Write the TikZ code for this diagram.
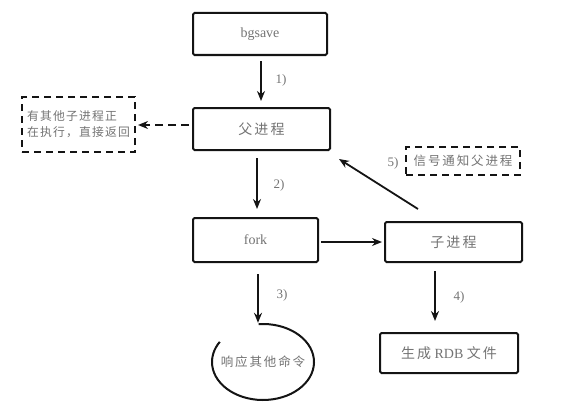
\documentclass[tikz,border=0pt]{standalone}
\usepackage{fontspec}
\setmainfont{Liberation Serif}
\newfontfamily\cjk{Noto Sans CJK SC}[LetterSpace=15]
\newfontfamily\cjktight{Noto Sans CJK SC}[LetterSpace=10]
\usetikzlibrary{arrows.meta,shapes.geometric}
\definecolor{txtgray}{RGB}{115,115,115}
\definecolor{ink}{RGB}{20,20,20}
\tikzset{
  sbox/.style={draw=ink, line width=2pt, rounded corners=1.5pt, inner sep=0pt, text=txtgray, font=\fontsize{14}{16}\selectfont},
  dbox/.style={sbox, dash pattern=on 7pt off 5pt, rounded corners=0pt},
  arr/.style={draw=ink, line width=1.8pt, -{Stealth[length=10pt,width=8pt]}},
  darr/.style={arr, dash pattern=on 8pt off 5pt},
  lbl/.style={text=txtgray, font=\fontsize{13}{15}\selectfont},
}
\begin{document}
\begin{tikzpicture}[x=1pt,y=1pt]
\useasboundingbox (0,0) rectangle (588,-404);
% boxes
\node[sbox, minimum width=134pt, minimum height=42pt] (bg) at (260,-34) {bgsave};
\node[sbox, minimum width=137pt, minimum height=42pt] (fu) at (261.5,-129) {\cjk 父进程};
\node[sbox, minimum width=125pt, minimum height=44pt] (fork) at (255.5,-240) {fork};
\node[sbox, minimum width=137pt, minimum height=40pt] (child) at (453.5,-242) {\cjk 子进程};
\node[sbox, minimum width=138pt, minimum height=40pt] (rdb) at (449,-353) {{\cjk 生成} RDB {\cjk 文件}};
\node[dbox, minimum width=113pt, minimum height=55pt, align=left, font=\fontsize{11.8}{16}\selectfont] (busy) at (78.5,-124.5) {\cjktight 有其他子进程正\\\cjktight 在执行，直接返回};
\node[dbox, minimum width=114pt, minimum height=28pt, font=\fontsize{12.5}{15}\selectfont] (sig) at (463,-161) {\cjk 信号通知父进程};
% ellipse (hand-drawn, open at upper left)
\node[ellipse, minimum width=102pt, minimum height=76pt, inner sep=0pt, text=txtgray, font=\fontsize{12.5}{15}\selectfont] (resp) at (263,-362) {\cjk 响应其他命令};
\draw[draw=ink, line width=2pt] ([shift={(95:51pt and 38pt)}]resp.center) arc[start angle=95, end angle=-212, x radius=51pt, y radius=38pt];
% connectors
\draw[arr] ([xshift=1pt]bg.south) ++(0,-5) coordinate (a1s) -- ([yshift=6pt]a1s |- fu.north);
\draw[arr] ([xshift=1.5pt]fork.north |- fu.south) ++(0,-7) coordinate (a2s) -- ([yshift=8pt]a2s |- fork.north);
\draw[arr] ([xshift=2.5pt]fork.south) ++(0,-11) coordinate (a3s) -- ([yshift=1pt]a3s |- resp.north);
\draw[arr] ([xshift=-18.5pt]child.south) ++(0,-8) coordinate (a4s) -- ([yshift=11pt]a4s |- rdb.north);
\draw[arr] (fork.east) ++(2,-2) coordinate (a6s) -- ([xshift=-2pt]a6s -| child.west);
\draw[arr] ([xshift=-35.5pt,yshift=12pt]child.north) coordinate (a5s) -- ([xshift=8pt,yshift=-8pt]fu.south east);
\draw[darr] (fu.west) ++(-3,4) coordinate (a7s) -- ([xshift=2pt]a7s -| busy.east);
% labels
\node[lbl] (l1) at (281,-80) {1)};
\node[lbl] (l2) at (279,-185) {2)};
\node[lbl] (l3) at (282,-295) {3)};
\node[lbl] (l4) at (459,-297) {4)};
\node[lbl] (l5) at (393,-163) {5)};
\end{tikzpicture}
\end{document}
